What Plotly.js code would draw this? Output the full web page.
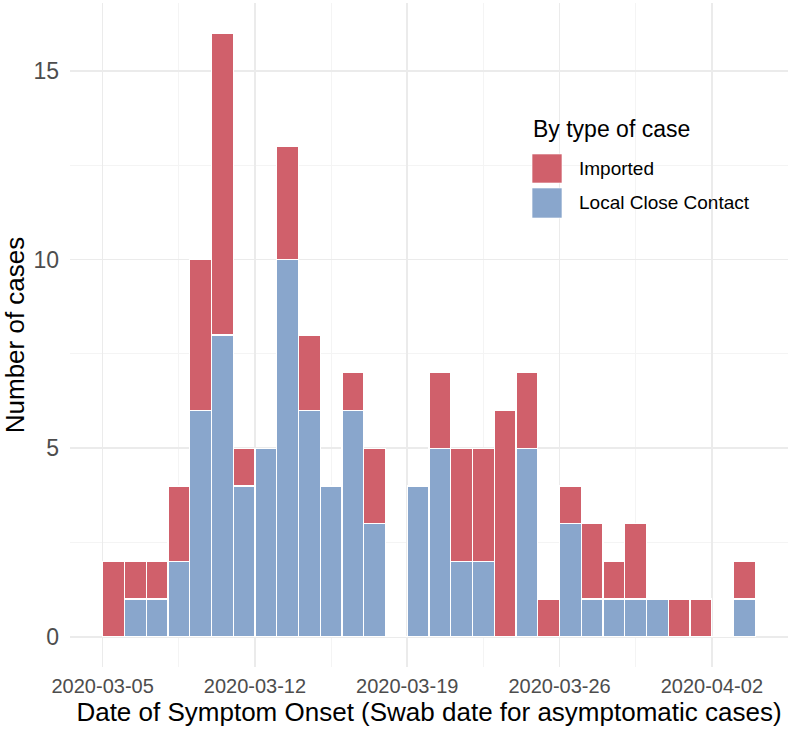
<!DOCTYPE html>
<html>
<head>
<meta charset="utf-8">
<script src="https://cdn.plot.ly/plotly-3.0.1.min.js"></script>
<style>
  html, body { margin: 0; padding: 0; background: #fff; }
  #chart { width: 789px; height: 730px; }
</style>
</head>
<body>
<div id="chart"></div>
<script>
// daily counts, 2020-03-05 .. 2020-04-03
const dates = [
    "2020-03-05", "2020-03-06", "2020-03-07", "2020-03-08", "2020-03-09", "2020-03-10",
    "2020-03-11", "2020-03-12", "2020-03-13", "2020-03-14", "2020-03-15", "2020-03-16",
    "2020-03-17", "2020-03-18", "2020-03-19", "2020-03-20", "2020-03-21", "2020-03-22",
    "2020-03-23", "2020-03-24", "2020-03-25", "2020-03-26", "2020-03-27", "2020-03-28",
    "2020-03-29", "2020-03-30", "2020-03-31", "2020-04-01", "2020-04-02", "2020-04-03"
];
const localCases = [0, 1, 1, 2, 6, 8, 4, 5, 10, 6, 4, 6, 3, 0, 4, 5, 2, 2, 0, 5, 0, 3, 1, 1, 1, 1, 0, 0, 0, 1];
const importedCases = [2, 1, 1, 2, 4, 8, 1, 0, 3, 2, 0, 1, 2, 0, 0, 2, 3, 3, 6, 2, 1, 1, 2, 1, 2, 0, 1, 1, 0, 1];
const tickDates = ["2020-03-05", "2020-03-12", "2020-03-19", "2020-03-26", "2020-04-02"];

const RED = "#D0606B";
const BLUE = "#89A6CC";
const FONT = "Liberation Sans, Arial, sans-serif";
const DAY = 86400000;

// bars span the whole day, so centre them at noon
const xs = dates.map((d) => d + " 12:00");

const localTrace = {
    type: "bar", x: xs, y: localCases, width: DAY, name: "Local Close Contact",
    marker: { color: BLUE, line: { color: "#ffffff", width: 1.2 } },
    showlegend: false, hoverinfo: "x+y+name",
};
const importedTrace = {
    type: "bar", x: xs, y: importedCases, width: DAY, name: "Imported",
    marker: { color: RED, line: { color: "#ffffff", width: 1.2 } },
    showlegend: false, hoverinfo: "x+y+name",
};

// legend drawn by hand so the keys can be big squares like ggplot's
const keyShape = (color, y0, y1) => ({
    type: "rect", xref: "paper", yref: "paper",
    x0: 0.6435, x1: 0.6852, y0: y0, y1: y1,
    fillcolor: color, line: { color: "rgba(255,255,255,0.6)", width: 1 },
});
const label = (text, x, y, size) => ({
    text: text, xref: "paper", yref: "paper", x: x, y: y,
    xanchor: "left", yanchor: "middle", showarrow: false,
    font: { family: FONT, size: size, color: "#000" },
});

const layout = {
    width: 789, height: 730,
    margin: { l: 70, r: 1, t: 3, b: 63 },
    paper_bgcolor: "#fff", plot_bgcolor: "#fff",
    barmode: "stack", bargap: 0,
    showlegend: false,
    font: { family: FONT },
    xaxis: {
        type: "date",
        range: ["2020-03-03 12:00", "2020-04-05 12:00"],
        tickmode: "array", tickvals: tickDates, ticktext: tickDates,
        showgrid: true, gridcolor: "#EBEBEB", gridwidth: 1.6,
        minor: { dtick: 3.5 * DAY, tick0: "2020-03-05", showgrid: true, gridcolor: "#F4F4F4", gridwidth: 1 },
        zeroline: false, showline: false, ticks: "",
        tickfont: { family: FONT, size: 20, color: "#4D4D4D" },
        ticklabelstandoff: 5,
        title: { text: "Date of Symptom Onset (Swab date for asymptomatic cases)", font: { family: FONT, size: 26, color: "#000" }, standoff: 1 },
        automargin: false,
    },
    yaxis: {
        range: [-0.8, 16.8],
        tickvals: [0, 5, 10, 15],
        showgrid: true, gridcolor: "#EBEBEB", gridwidth: 1.6,
        minor: { tickvals: [2.5, 7.5, 12.5], showgrid: true, gridcolor: "#F4F4F4", gridwidth: 1 },
        zeroline: false, showline: false, ticks: "",
        tickfont: { family: FONT, size: 23, color: "#4D4D4D" },
        ticklabelstandoff: 10,
        title: { text: "Number of cases", font: { family: FONT, size: 26, color: "#000" }, standoff: 8 },
        automargin: false,
    },
    shapes: [
        keyShape(RED, 0.7289, 0.7726),
        keyShape(BLUE, 0.6762, 0.7214),
    ],
    annotations: [
        label("By type of case", 0.642, 0.8102, 23),
        label("Imported", 0.7061, 0.7508, 19),
        label("Local Close Contact", 0.7061, 0.6988, 19),
    ],
};

Plotly.newPlot("chart", [localTrace, importedTrace], layout, { displayModeBar: false, staticPlot: true });
</script>
</body>
</html>
